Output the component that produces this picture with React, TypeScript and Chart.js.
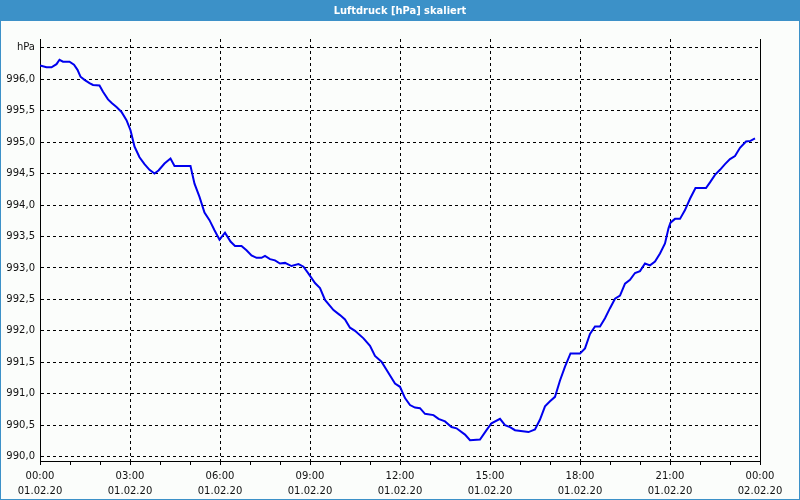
import { useEffect, useRef } from "react";
import { Chart, registerables } from "chart.js";

Chart.register(...registerables);

// ---- data (minutes since 01.02.20 00:00, pressure in hPa) ----
const times = [
  0, 13, 23, 33, 39, 46, 59, 68, 75, 81, 89, 99, 106, 119, 126, 136, 144, 153, 163, 173,
  181, 189, 199, 209, 219, 229, 237, 249, 261, 269, 301, 309, 319, 329, 339, 349, 359, 370, 381, 390,
  403, 413, 423, 433, 443, 450, 460, 470, 480, 490, 503, 517, 527, 537, 550, 560, 570, 587, 600, 610,
  620, 630, 647, 660, 670, 683, 697, 710, 720, 730, 740, 750, 760, 770, 787, 797, 810, 823, 833, 850,
  860, 880, 893, 903, 920, 930, 940, 950, 977, 990, 1000, 1010, 1020, 1030, 1040, 1050, 1061, 1080, 1090, 1100,
  1110, 1120, 1130, 1140, 1150, 1160, 1170, 1180, 1190, 1200, 1210, 1220, 1230, 1240, 1250, 1257, 1261, 1270, 1280, 1290,
  1300, 1311, 1332, 1340, 1350, 1360, 1370, 1380, 1390, 1400, 1412, 1421, 1430,
];
const pressure = [
  996.22, 996.19, 996.19, 996.24, 996.31, 996.28, 996.28, 996.23, 996.15, 996.04, 995.99, 995.94, 995.91, 995.90, 995.80, 995.68, 995.62, 995.56, 995.48, 995.35,
  995.19, 994.93, 994.76, 994.65, 994.56, 994.50, 994.55, 994.66, 994.74, 994.62, 994.62, 994.34, 994.13, 993.88, 993.76, 993.60, 993.45, 993.56, 993.42, 993.35,
  993.35, 993.28, 993.20, 993.16, 993.16, 993.19, 993.14, 993.12, 993.07, 993.08, 993.03, 993.06, 993.02, 992.91, 992.76, 992.68, 992.49, 992.33, 992.25, 992.18,
  992.05, 992.00, 991.88, 991.76, 991.60, 991.51, 991.33, 991.16, 991.11, 990.93, 990.82, 990.78, 990.77, 990.68, 990.66, 990.60, 990.56, 990.47, 990.45, 990.35,
  990.26, 990.27, 990.42, 990.53, 990.60, 990.50, 990.47, 990.42, 990.39, 990.43, 990.59, 990.80, 990.88, 990.95, 991.21, 991.43, 991.64, 991.64, 991.72, 991.95,
  992.07, 992.07, 992.20, 992.36, 992.51, 992.56, 992.75, 992.81, 992.92, 992.95, 993.07, 993.04, 993.10, 993.23, 993.39, 993.63, 993.72, 993.78, 993.78, 993.92,
  994.10, 994.27, 994.27, 994.36, 994.48, 994.56, 994.65, 994.73, 994.78, 994.91, 995.01, 995.02, 995.06,
];

const title = "Luftdruck [hPa] skaliert";
const unitLabel = "hPa";
const yTicks = [990.0, 990.5, 991.0, 991.5, 992.0, 992.5, 993.0, 993.5, 994.0, 994.5, 995.0, 995.5, 996.0, 996.5];
const xMinorTicks = [0, 60, 120, 180, 240, 300, 360, 420, 480, 540, 600, 660, 720, 780, 840, 900, 960, 1020, 1080, 1140, 1200, 1260, 1320, 1380, 1440];
const xMajorTicks = [0, 180, 360, 540, 720, 900, 1080, 1260, 1440];
const xTimeLabels = ["00:00", "03:00", "06:00", "09:00", "12:00", "15:00", "18:00", "21:00", "00:00"];
const xDateLabels = ["01.02.20", "01.02.20", "01.02.20", "01.02.20", "01.02.20", "01.02.20", "01.02.20", "01.02.20", "02.02.20"];

const FONT = "'DejaVu Sans', sans-serif";

const framePlugin = {
  id: "frame",
  beforeDraw(chart: any) {
    const { ctx, width, height } = chart;
    ctx.save();
    ctx.fillStyle = "#3c91c8";
    ctx.fillRect(0, 0, width, height);
    ctx.fillStyle = "#fbfdfb";
    ctx.fillRect(1, 21, width - 2, height - 22);
    ctx.restore();
  },
  afterDraw(chart: any) {
    const { ctx, chartArea } = chart;
    ctx.save();
    ctx.strokeStyle = "#000";
    ctx.lineWidth = 1;
    ctx.beginPath();
    const xr = Math.round(chartArea.right) + 0.5;
    ctx.moveTo(xr, chartArea.top);
    ctx.lineTo(xr, chartArea.bottom + 0.5);
    ctx.stroke();
    ctx.fillStyle = "#ffffff";
    ctx.font = "bold 11px 'DejaVu Sans Condensed', 'DejaVu Sans', sans-serif";
    ctx.textAlign = "center";
    ctx.textBaseline = "middle";
    ctx.fillText(title, 400, 11);
    ctx.restore();
  },
};

export default function App() {
  const ref = useRef<HTMLCanvasElement | null>(null);

  useEffect(() => {
    if (!ref.current) return;
    const chart = new Chart(ref.current, {
      type: "line",
      data: {
        datasets: [
          {
            data: times.map((t, i) => ({ x: t, y: pressure[i] })),
            borderColor: "#0000ee",
            borderWidth: 2,
            pointRadius: 0,
            tension: 0,
            fill: false,
          },
        ],
      },
      options: {
        responsive: false,
        animation: false,
        devicePixelRatio: 1,
        layout: { padding: { top: 39, right: 40, left: 0, bottom: 0 } },
        plugins: { legend: { display: false }, tooltip: { enabled: false }, title: { display: false } },
        scales: {
          x: {
            type: "linear",
            min: 0,
            max: 1440,
            afterBuildTicks: (scale: any) => {
              scale.ticks = xMinorTicks.map((v) => ({ value: v }));
            },
            afterFit: (scale: any) => {
              scale.height = 39;
            },
            ticks: {
              autoSkip: false,
              maxRotation: 0,
              padding: 4,
              color: "#111",
              font: { family: FONT, size: 10, lineHeight: 1.5 },
              callback: (value: any) => {
                const i = xMajorTicks.indexOf(Number(value));
                if (i < 0) return "";
                return [xTimeLabels[i], xDateLabels[i]];
              },
            },
            grid: {
              color: (ctx: any) =>
                ctx.tick && xMajorTicks.indexOf(ctx.tick.value) >= 0 ? "#000" : "rgba(0,0,0,0)",
              tickColor: "#000",
              tickLength: 4,
              lineWidth: 1,
            },
            border: { display: true, color: "#000", width: 1, dash: [3, 3] },
          },
          y: {
            type: "linear",
            min: 989.93,
            max: 996.64,
            afterBuildTicks: (scale: any) => {
              scale.ticks = yTicks.map((v) => ({ value: v }));
            },
            afterFit: (scale: any) => {
              scale.width = 40;
            },
            ticks: {
              padding: 5,
              color: "#111",
              font: { family: FONT, size: 10 },
              callback: (value: any) =>
                Number(value) === 996.5 ? unitLabel : Number(value).toFixed(1).replace(".", ","),
            },
            grid: { color: "#000", drawTicks: false, lineWidth: 1 },
            border: { display: true, color: "#000", width: 1, dash: [3, 3] },
          },
        },
      },
      plugins: [framePlugin],
    } as any);
    return () => chart.destroy();
  }, []);

  return (
    <div style={{ position: "fixed", left: 0, top: 0, width: 800, height: 500 }}>
      <canvas ref={ref} width={800} height={500} style={{ display: "block" }} />
    </div>
  );
}
